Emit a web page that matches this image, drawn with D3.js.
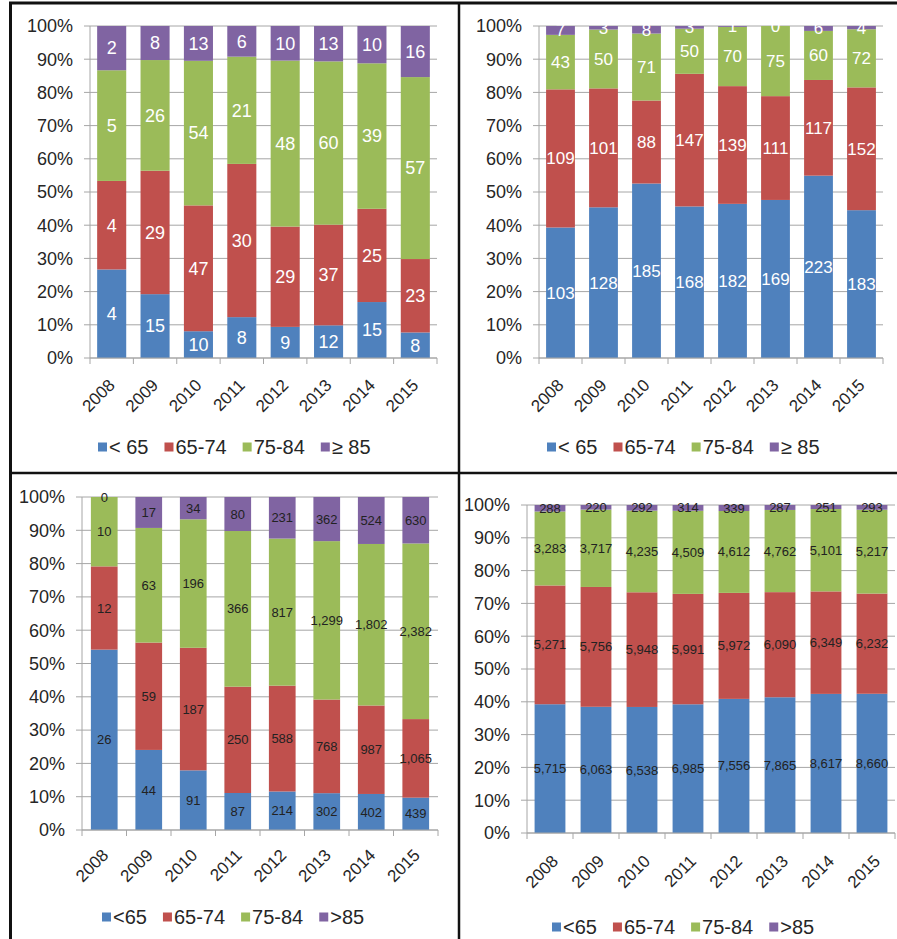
<!DOCTYPE html>
<html>
<head>
<meta charset="utf-8">
<script src="https://cdn.jsdelivr.net/npm/d3@7"></script>
<style>
  html, body { margin: 0; padding: 0; background: #fff; }
  svg { display: block; font-family: "Liberation Sans", Arial, sans-serif; }
</style>
</head>
<body>
<svg id="chart" width="897" height="939"></svg>
<script>
// Years on the category axis
const years = ["2008", "2009", "2010", "2011", "2012", "2013", "2014", "2015"];

// Age-group names used in the two legend styles
const legendLabelsTop = ["< 65", "65-74", "75-84", "\u2265 85"];
const legendLabelsBottom = ["<65", "65-74", "75-84", ">85"];

// Percent ticks on the value axis
const percentTicks = [0, 0.1, 0.2, 0.3, 0.4, 0.5, 0.6, 0.7, 0.8, 0.9, 1.0];

// Top-left panel counts
const under65A = [4, 15, 10, 8, 9, 12, 15, 8];
const age65to74A = [4, 29, 47, 30, 29, 37, 25, 23];
const age75to84A = [5, 26, 54, 21, 48, 60, 39, 57];
const over85A = [2, 8, 13, 6, 10, 13, 10, 16];

// Top-right panel counts
const under65B = [103, 128, 185, 168, 182, 169, 223, 183];
const age65to74B = [109, 101, 88, 147, 139, 111, 117, 152];
const age75to84B = [43, 50, 71, 50, 70, 75, 60, 72];
const over85B = [7, 3, 8, 3, 1, 0, 6, 4];

// Bottom-left panel counts
const under65C = [26, 44, 91, 87, 214, 302, 402, 439];
const age65to74C = [12, 59, 187, 250, 588, 768, 987, 1065];
const age75to84C = [10, 63, 196, 366, 817, 1299, 1802, 2382];
const over85C = [0, 17, 34, 80, 231, 362, 524, 630];

// Bottom-right panel counts
const under65D = [5715, 6063, 6538, 6985, 7556, 7865, 8617, 8660];
const age65to74D = [5271, 5756, 5948, 5991, 5972, 6090, 6349, 6232];
const age75to84D = [3283, 3717, 4235, 4509, 4612, 4762, 5101, 5217];
const over85D = [288, 220, 292, 314, 339, 287, 251, 293];

const colors = ["#4F81BD", "#C0504D", "#9BBB59", "#8064A2"];

const panels = [
  { series: [under65A, age65to74A, age75to84A, over85A], legend: legendLabelsTop,
    plot: { left: 90, right: 437, top: 26, bottom: 358 }, pad: 0.33,
    labelSize: 18, labelColor: "#ffffff", fmt: d3.format("d"),
    legendX: 98, legendY: 447, xLab: { dx: 0, dy: 24 } },
  { series: [under65B, age65to74B, age75to84B, over85B], legend: legendLabelsTop,
    plot: { left: 539, right: 883, top: 26, bottom: 358 }, pad: 0.33,
    labelSize: 17, labelColor: "#ffffff", fmt: d3.format("d"),
    legendX: 547, legendY: 447, xLab: { dx: 0, dy: 24 } },
  { series: [under65C, age65to74C, age75to84C, over85C], legend: legendLabelsBottom,
    plot: { left: 82, right: 438, top: 497, bottom: 830 }, pad: 0.4,
    labelSize: 13, labelColor: "#222222", fmt: d3.format(","),
    legendX: 102, legendY: 917, xLab: { dx: 1, dy: 22 } },
  { series: [under65D, age65to74D, age75to84D, over85D], legend: legendLabelsBottom,
    plot: { left: 527, right: 895, top: 505, bottom: 833 }, pad: 0.33,
    labelSize: 13, labelColor: "#222222", fmt: d3.format(","),
    legendX: 552, legendY: 927, xLab: { dx: 5, dy: 25 } }
];

const svg = d3.select("#chart");

panels.forEach(p => {
  const g = svg.append("g");
  const { left, right, top, bottom } = p.plot;

  const x = d3.scaleBand().domain(years).range([left, right])
    .paddingInner(p.pad).paddingOuter(p.pad / 2);
  const y = d3.scaleLinear().domain([0, 1]).range([bottom, top]);

  // Rows of counts per year, stacked to 100%
  const rows = years.map((yr, i) => ({ year: yr, vals: p.series.map(s => s[i]) }));
  const stacked = d3.stack()
    .keys([0, 1, 2, 3])
    .value((d, k) => d.vals[k])
    .offset(d3.stackOffsetExpand)(rows);

  // Horizontal gridlines with small outside ticks
  g.append("g").selectAll("line").data(percentTicks).join("line")
    .attr("x1", left - 6).attr("x2", right)
    .attr("y1", d => y(d)).attr("y2", d => y(d))
    .attr("stroke", "#a6a6a6").attr("stroke-width", 1);

  // Value axis line
  g.append("line").attr("x1", left).attr("x2", left)
    .attr("y1", top).attr("y2", bottom)
    .attr("stroke", "#a6a6a6").attr("stroke-width", 1);

  // Percent labels
  g.append("g").selectAll("text").data(percentTicks).join("text")
    .attr("x", left - 17).attr("y", d => y(d)).attr("dy", "0.35em")
    .attr("text-anchor", "end").attr("font-size", 18).attr("fill", "#262626")
    .text(d3.format(".0%"));

  // Stacked segments
  stacked.forEach((layer, k) => {
    g.append("g").selectAll("rect").data(layer).join("rect")
      .attr("x", d => x(d.data.year))
      .attr("width", x.bandwidth())
      .attr("y", d => y(d[1]))
      .attr("height", d => Math.max(0, y(d[0]) - y(d[1])))
      .attr("fill", colors[k]);
  });

  // Count labels centred in each segment
  stacked.forEach((layer, k) => {
    g.append("g").selectAll("text").data(layer).join("text")
      .attr("x", d => x(d.data.year) + x.bandwidth() / 2)
      .attr("y", d => (y(d[0]) + y(d[1])) / 2)
      .attr("dy", "0.35em")
      .attr("text-anchor", "middle")
      .attr("font-size", p.labelSize)
      .attr("fill", p.labelColor)
      .text(d => p.fmt(d.data.vals[k]));
  });

  // Category axis line and boundary ticks
  g.append("line").attr("x1", left).attr("x2", right)
    .attr("y1", bottom).attr("y2", bottom)
    .attr("stroke", "#a6a6a6").attr("stroke-width", 1);
  const step = x.step();
  const x0 = x(years[0]) - step * x.paddingOuter();
  g.append("g").selectAll("line").data(d3.range(years.length + 1)).join("line")
    .attr("x1", i => x0 + i * step).attr("x2", i => x0 + i * step)
    .attr("y1", bottom).attr("y2", bottom + 6)
    .attr("stroke", "#a6a6a6").attr("stroke-width", 1);

  // Rotated year labels
  g.append("g").selectAll("text").data(years).join("text")
    .attr("transform", d => `translate(${x(d) + x.bandwidth() / 2 + p.xLab.dx},${bottom + p.xLab.dy}) rotate(-45)`)
    .attr("dy", "0.35em")
    .attr("text-anchor", "end").attr("font-size", 17).attr("fill", "#262626")
    .text(d => d);

  // Legend
  const lg = g.append("g").attr("transform", `translate(${p.legendX},${p.legendY})`);
  let cx = 0;
  p.legend.forEach((name, k) => {
    lg.append("rect").attr("x", cx).attr("y", -4.5).attr("width", 9).attr("height", 9)
      .attr("fill", colors[k]);
    const t = lg.append("text").attr("x", cx + 11).attr("dy", "0.35em")
      .attr("font-size", 20).attr("fill", "#262626").text(name);
    cx += 11 + t.node().getComputedTextLength() + 16;
  });
});

// Frame lines separating the four panels
const frame = svg.append("g").attr("stroke", "#111").attr("fill", "none");
frame.append("line").attr("x1", 9).attr("x2", 897).attr("y1", 3).attr("y2", 3).attr("stroke-width", 3);
frame.append("line").attr("x1", 10.5).attr("x2", 10.5).attr("y1", 2).attr("y2", 939).attr("stroke-width", 3);
frame.append("line").attr("x1", 459).attr("x2", 459).attr("y1", 2).attr("y2", 939).attr("stroke-width", 2.5);
frame.append("line").attr("x1", 9).attr("x2", 897).attr("y1", 473).attr("y2", 473).attr("stroke-width", 2.5);
</script>
</body>
</html>
